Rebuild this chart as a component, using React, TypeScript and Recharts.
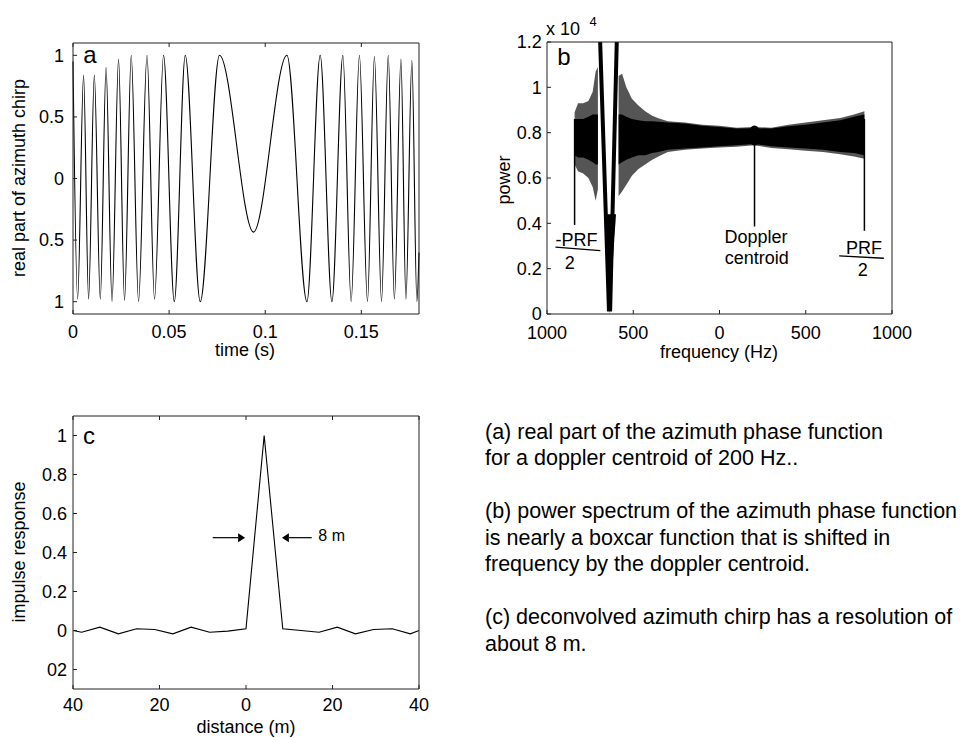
import React from 'react';
import {
  LineChart,
  ComposedChart,
  Line,
  Area,
  XAxis,
  YAxis,
  ReferenceLine,
  ReferenceDot,
} from 'recharts';

const FONT = '"Liberation Sans", Arial, Helvetica, sans-serif';
const INK = '#000';
const BOX = '#222';

// ---------- Panel a: real part of azimuth chirp (extrema) ----------
const chirpTime = [
  0, 0.0024, 0.0055, 0.0081, 0.0111, 0.0142, 0.0172, 0.0203, 0.0237, 0.0268, 0.0303, 0.0341,
  0.0385, 0.0424, 0.0471, 0.0527, 0.0584, 0.0662, 0.0762, 0.0939, 0.1113, 0.1217, 0.1286,
  0.1347, 0.1404, 0.1447, 0.149, 0.1532, 0.1568, 0.1605, 0.164, 0.1672, 0.1706, 0.1732,
  0.1763, 0.1789, 0.18,
];
const chirpValue = [
  0.95, -0.98, 0.84, -0.98, 0.84, -0.98, 0.9, -1.0, 0.97, -0.99, 1.0, -1.0,
  1.0, -0.98, 1.0, -1.0, 1.0, -1.0, 1.0, -0.435, 1.0, -1.0, 1.0,
  -1.0, 1.0, -1.0, 1.0, -1.0, 0.99, -1.0, 1.0, -0.98, 0.97, -0.98,
  0.96, -1.0, -0.6,
];
const aXTicks = [0, 0.05, 0.1, 0.15];
const aXTickLabels = ['0', '0.05', '0.1', '0.15'];
const aYTicks = [-1, -0.5, 0, 0.5, 1];
const aYTickLabels = ['1', '0.5', '0', '0.5', '1'];

// ---------- Panel b: power spectrum (x 10^4), envelopes ----------
const leftFreq = [-840, -820, -790, -760, -735, -718, -705];
const leftOuterLo = [0.66, 0.63, 0.62, 0.6, 0.56, 0.5, 0.55];
const leftOuterHi = [0.89, 0.93, 0.93, 0.94, 0.98, 1.07, 1.09];
const leftCoreLo = [0.7, 0.69, 0.69, 0.68, 0.67, 0.66, 0.66];
const leftCoreHi = [0.86, 0.86, 0.86, 0.87, 0.88, 0.88, 0.88];

const rightFreq = [
  -585, -565, -540, -508, -470, -431, -390, -354, -300, -200, -100, 0, 100, 200, 300, 400, 500,
  600, 700, 780, 840,
];
const rightOuterLo = [
  0.52, 0.54, 0.57, 0.61, 0.64, 0.66, 0.68, 0.695, 0.715, 0.725, 0.73, 0.735, 0.738, 0.745,
  0.732, 0.727, 0.72, 0.715, 0.705, 0.695, 0.685,
];
const rightOuterHi = [
  1.05, 1.06, 1.0, 0.95, 0.92, 0.894, 0.875, 0.864, 0.85, 0.845, 0.835, 0.83, 0.822, 0.825,
  0.822, 0.835, 0.845, 0.855, 0.865, 0.88, 0.895,
];
const rightCoreLo = [
  0.66, 0.67, 0.68, 0.69, 0.7, 0.7, 0.71, 0.715, 0.725, 0.73, 0.735, 0.74, 0.745, 0.75, 0.74,
  0.735, 0.73, 0.725, 0.715, 0.71, 0.7,
];
const rightCoreHi = [
  0.88, 0.88, 0.87, 0.86, 0.855, 0.85, 0.85, 0.848, 0.845, 0.84, 0.83, 0.825, 0.818, 0.82,
  0.818, 0.828, 0.835, 0.845, 0.855, 0.87, 0.88,
];
const veeFreq = [-668, -639, -600];
const veeLo = [0.44, 0.0, 0.44];
const veeHi = [0.44, 0.44, 0.44];
const armFreq = [-694, -641, -634, -594];
const armValue = [1.25, 0.02, 0.02, 1.25];

const bXTicks = [-1000, -500, 0, 500, 1000];
const bXTickLabels = ['1000', '500', '0', '500', '1000'];
const bYTicks = [0, 0.2, 0.4, 0.6, 0.8, 1, 1.2];
const bYTickLabels = ['0', '0.2', '0.4', '0.6', '0.8', '1', '1.2'];

const dopplerCentroid = 203;
const dopplerPower = 0.787;
const prfLeft = -840;
const prfRight = 840;

// ---------- Panel c: impulse response ----------
const cDistance = [
  -40, -38, -33.8, -29.5, -25.3, -21.1, -16.9, -12.7, -8.4, -4.2, 0, 4.2, 8.5, 12.7, 16.9, 21.1,
  25.3, 29.5, 33.8, 38, 40,
];
const cResponse = [
  0.0, -0.009, 0.017, -0.017, 0.009, 0.005, -0.017, 0.017, -0.009, -0.003, 0.009, 1.0, 0.009,
  0.0, -0.009, 0.017, -0.017, 0.005, 0.009, -0.017, 0.0,
];
const cXTicks = [-40, -20, 0, 20, 40];
const cXTickLabels = ['40', '20', '0', '20', '40'];
const cYTicks = [-0.2, 0, 0.2, 0.4, 0.6, 0.8, 1];
const cYTickLabels = ['02', '0', '0.2', '0.4', '0.6', '0.8', '1'];

// ---------- tables ----------
const chirpData = chirpTime.map((t, i) => ({ t, v: chirpValue[i] }));
const leftBand = leftFreq.map((f, i) => ({
  f,
  outer: [leftOuterLo[i], leftOuterHi[i]],
  core: [leftCoreLo[i], leftCoreHi[i]],
}));
const rightBand = rightFreq.map((f, i) => ({
  f,
  outer: [rightOuterLo[i], rightOuterHi[i]],
  core: [rightCoreLo[i], rightCoreHi[i]],
}));
const veeData = veeFreq.map((f, i) => ({ f, band: [veeLo[i], veeHi[i]] }));
const armData = armFreq.map((f, i) => ({ f, v: armValue[i] }));
const impulseData = cDistance.map((d, i) => ({ d, v: cResponse[i] }));

const fmt = (ticks: number[], labels: string[]) => (v: number) => {
  const i = ticks.indexOf(v);
  return i >= 0 ? labels[i] : '';
};
const blank = () => '';

const tickStyle = { fill: INK, fontSize: 18, fontFamily: FONT };

const Txt = ({
  x,
  y,
  size,
  rotate,
  children,
}: {
  x: number;
  y: number;
  size: number;
  rotate?: boolean;
  children: React.ReactNode;
}) => (
  <div
    style={{
      position: 'absolute',
      left: x,
      top: y,
      transform: `translate(-50%, -50%)${rotate ? ' rotate(-90deg)' : ''}`,
      fontSize: size,
      fontFamily: FONT,
      lineHeight: 1,
      whiteSpace: 'nowrap',
      color: INK,
    }}
  >
    {children}
  </div>
);

const textShape = (label: string, size: number) => (p: any) => (
  <text
    x={p.cx}
    y={p.cy}
    textAnchor="middle"
    dominantBaseline="central"
    fontSize={size}
    fontFamily={FONT}
    fill={INK}
  >
    {label}
  </text>
);

const arrowShape = (p: any) => {
  const { x1, y1, x2, y2 } = p;
  const dir = x2 > x1 ? 1 : -1;
  const len = 7;
  const hw = 4.5;
  return (
    <g>
      <line x1={x1} y1={y1} x2={x2 - dir * len} y2={y2} stroke={INK} strokeWidth={1.2} />
      <polygon
        points={`${x2},${y2} ${x2 - dir * len},${y2 - hw} ${x2 - dir * len},${y2 + hw}`}
        fill={INK}
      />
    </g>
  );
};

const ellipseShape = (p: any) => <ellipse cx={p.cx} cy={p.cy} rx={6.5} ry={10} fill={INK} />;

export default function App() {
  const axisCommon = {
    stroke: BOX,
    tickSize: -4,
    interval: 0 as const,
    type: 'number' as const,
    tick: tickStyle,
  };

  return (
    <div
      style={{
        position: 'absolute',
        left: 0,
        top: 0,
        width: 969,
        height: 738,
        background: '#fff',
        overflow: 'hidden',
        fontFamily: FONT,
      }}
    >
      {/* Panel a */}
      <div style={{ position: 'absolute', left: 0, top: 0 }}>
        <LineChart width={440} height={370} data={chirpData} margin={{ top: 0, right: 0, bottom: 0, left: 0 }}>
          <XAxis
            {...axisCommon}
            dataKey="t"
            domain={[0, 0.18]}
            ticks={aXTicks}
            tickFormatter={fmt(aXTicks, aXTickLabels)}
            height={56}
            tickMargin={15}
          />
          <XAxis
            {...axisCommon}
            xAxisId="top"
            orientation="top"
            dataKey="t"
            domain={[0, 0.18]}
            ticks={aXTicks}
            tickFormatter={blank}
            height={43}
          />
          <YAxis
            {...axisCommon}
            domain={[-1.1, 1.1]}
            ticks={aYTicks}
            tickFormatter={fmt(aYTicks, aYTickLabels)}
            width={73}
            tickMargin={13}
          />
          <YAxis
            {...axisCommon}
            yAxisId="right"
            orientation="right"
            domain={[-1.1, 1.1]}
            ticks={aYTicks}
            tickFormatter={blank}
            width={21}
          />
          <Line
            type="monotone"
            dataKey="v"
            stroke={INK}
            strokeWidth={1.1}
            dot={false}
            isAnimationActive={false}
          />
        </LineChart>
      </div>

      {/* Panel b */}
      <div style={{ position: 'absolute', left: 470, top: 0 }}>
        <ComposedChart width={480} height={370} margin={{ top: 0, right: 0, bottom: 0, left: 0 }}>
          <XAxis
            {...axisCommon}
            dataKey="f"
            domain={[-1000, 1000]}
            ticks={bXTicks}
            tickFormatter={fmt(bXTicks, bXTickLabels)}
            height={56}
            tickMargin={16.5}
            allowDataOverflow
          />
          <XAxis
            {...axisCommon}
            xAxisId="top"
            orientation="top"
            dataKey="f"
            domain={[-1000, 1000]}
            ticks={bXTicks}
            tickFormatter={blank}
            height={42}
          />
          <YAxis
            {...axisCommon}
            domain={[0, 1.2]}
            ticks={bYTicks}
            tickFormatter={fmt(bYTicks, bYTickLabels)}
            width={77}
            tickMargin={9.3}
            allowDataOverflow
          />
          <YAxis
            {...axisCommon}
            yAxisId="right"
            orientation="right"
            domain={[0, 1.2]}
            ticks={bYTicks}
            tickFormatter={blank}
            width={58}
          />
          <Area
            data={leftBand}
            dataKey="outer"
            type="linear"
            stroke="none"
            fill="#555"
            fillOpacity={1}
            isAnimationActive={false}
          />
          <Area
            data={leftBand}
            dataKey="core"
            type="linear"
            stroke="none"
            fill={INK}
            fillOpacity={1}
            isAnimationActive={false}
          />
          <Area
            data={rightBand}
            dataKey="outer"
            type="linear"
            stroke="none"
            fill="#555"
            fillOpacity={1}
            isAnimationActive={false}
          />
          <Area
            data={rightBand}
            dataKey="core"
            type="linear"
            stroke="none"
            fill={INK}
            fillOpacity={1}
            isAnimationActive={false}
          />
          <Area
            data={veeData}
            dataKey="band"
            type="linear"
            stroke="none"
            fill={INK}
            fillOpacity={1}
            isAnimationActive={false}
          />
          <Line
            data={armData}
            dataKey="v"
            type="linear"
            stroke={INK}
            strokeWidth={4}
            dot={false}
            isAnimationActive={false}
          />
          <ReferenceLine
            segment={[
              { x: prfLeft, y: 0.86 },
              { x: prfLeft, y: 0.393 },
            ]}
            stroke={INK}
            strokeWidth={1.5}
          />
          <ReferenceLine
            segment={[
              { x: dopplerCentroid, y: 0.76 },
              { x: dopplerCentroid, y: 0.386 },
            ]}
            stroke={INK}
            strokeWidth={1.5}
          />
          <ReferenceLine
            segment={[
              { x: prfRight, y: 0.86 },
              { x: prfRight, y: 0.367 },
            ]}
            stroke={INK}
            strokeWidth={1.5}
          />
          <ReferenceDot x={dopplerCentroid} y={dopplerPower} r={6} shape={ellipseShape} />
          {/* -PRF / 2 */}
          <ReferenceLine
            segment={[
              { x: -951, y: 0.295 },
              { x: -691, y: 0.28 },
            ]}
            stroke={INK}
            strokeWidth={1.3}
          />
          <ReferenceDot x={-829} y={0.327} r={0} shape={textShape('-PRF', 18)} />
          <ReferenceDot x={-868} y={0.225} r={0} shape={textShape('2', 18)} />
          {/* PRF / 2 */}
          <ReferenceLine
            segment={[
              { x: 694, y: 0.256 },
              { x: 953, y: 0.246 },
            ]}
            stroke={INK}
            strokeWidth={1.3}
          />
          <ReferenceDot x={837} y={0.29} r={0} shape={textShape('PRF', 18)} />
          <ReferenceDot x={830} y={0.194} r={0} shape={textShape('2', 18)} />
          {/* Doppler centroid */}
          <ReferenceDot x={212} y={0.341} r={0} shape={textShape('Doppler', 18)} />
          <ReferenceDot x={216} y={0.249} r={0} shape={textShape('centroid', 18)} />
        </ComposedChart>
      </div>

      {/* Panel c */}
      <div style={{ position: 'absolute', left: 0, top: 370 }}>
        <LineChart width={440} height={368} data={impulseData} margin={{ top: 0, right: 0, bottom: 0, left: 0 }}>
          <XAxis
            {...axisCommon}
            dataKey="d"
            domain={[-40, 40]}
            ticks={cXTicks}
            tickFormatter={fmt(cXTicks, cXTickLabels)}
            height={49}
            tickMargin={13.5}
          />
          <XAxis
            {...axisCommon}
            xAxisId="top"
            orientation="top"
            dataKey="d"
            domain={[-40, 40]}
            ticks={cXTicks}
            tickFormatter={blank}
            height={46}
          />
          <YAxis
            {...axisCommon}
            domain={[-0.3, 1.1]}
            ticks={cYTicks}
            tickFormatter={fmt(cYTicks, cYTickLabels)}
            width={73}
            tickMargin={10}
          />
          <YAxis
            {...axisCommon}
            yAxisId="right"
            orientation="right"
            domain={[-0.3, 1.1]}
            ticks={cYTicks}
            tickFormatter={blank}
            width={21}
          />
          <Line
            type="linear"
            dataKey="v"
            stroke={INK}
            strokeWidth={1.1}
            dot={false}
            isAnimationActive={false}
          />
          <ReferenceLine
            segment={[
              { x: -7.7, y: 0.476 },
              { x: -0.2, y: 0.476 },
            ]}
            shape={arrowShape}
          />
          <ReferenceLine
            segment={[
              { x: 15.2, y: 0.476 },
              { x: 8.3, y: 0.476 },
            ]}
            shape={arrowShape}
          />
          <ReferenceDot x={19.8} y={0.485} r={0} shape={textShape('8 m', 16)} />
        </LineChart>
      </div>

      {/* axis titles and panel letters */}
      <Txt x={19} y={177.5} size={18} rotate>
        real part of azimuth chirp
      </Txt>
      <Txt x={245} y={350} size={18}>
        time (s)
      </Txt>
      <Txt x={90} y={55} size={24}>
        a
      </Txt>

      <Txt x={504} y={180} size={18} rotate>
        power
      </Txt>
      <Txt x={719} y={352} size={18}>
        frequency (Hz)
      </Txt>
      <Txt x={564} y={57} size={24}>
        b
      </Txt>
      <Txt x={563} y={28.5} size={18}>
        x 10
      </Txt>
      <Txt x={593} y={21} size={13}>
        4
      </Txt>

      <Txt x={19} y={552} size={18} rotate>
        impulse response
      </Txt>
      <Txt x={246} y={727} size={18}>
        distance (m)
      </Txt>
      <Txt x={89} y={436} size={24}>
        c
      </Txt>

      {/* caption */}
      <div
        style={{
          position: 'absolute',
          left: 485,
          top: 418.5,
          fontSize: 21.5,
          lineHeight: '26.5px',
          fontFamily: FONT,
          color: INK,
          whiteSpace: 'nowrap',
        }}
      >
        <div>(a) real part of the azimuth phase function</div>
        <div>for a doppler centroid of 200 Hz..</div>
        <div>&nbsp;</div>
        <div>(b) power spectrum of the azimuth phase function</div>
        <div>is nearly a boxcar function that is shifted in</div>
        <div>frequency by the doppler centroid.</div>
        <div>&nbsp;</div>
        <div>(c) deconvolved azimuth chirp has a resolution of</div>
        <div>about 8 m.</div>
      </div>
    </div>
  );
}
